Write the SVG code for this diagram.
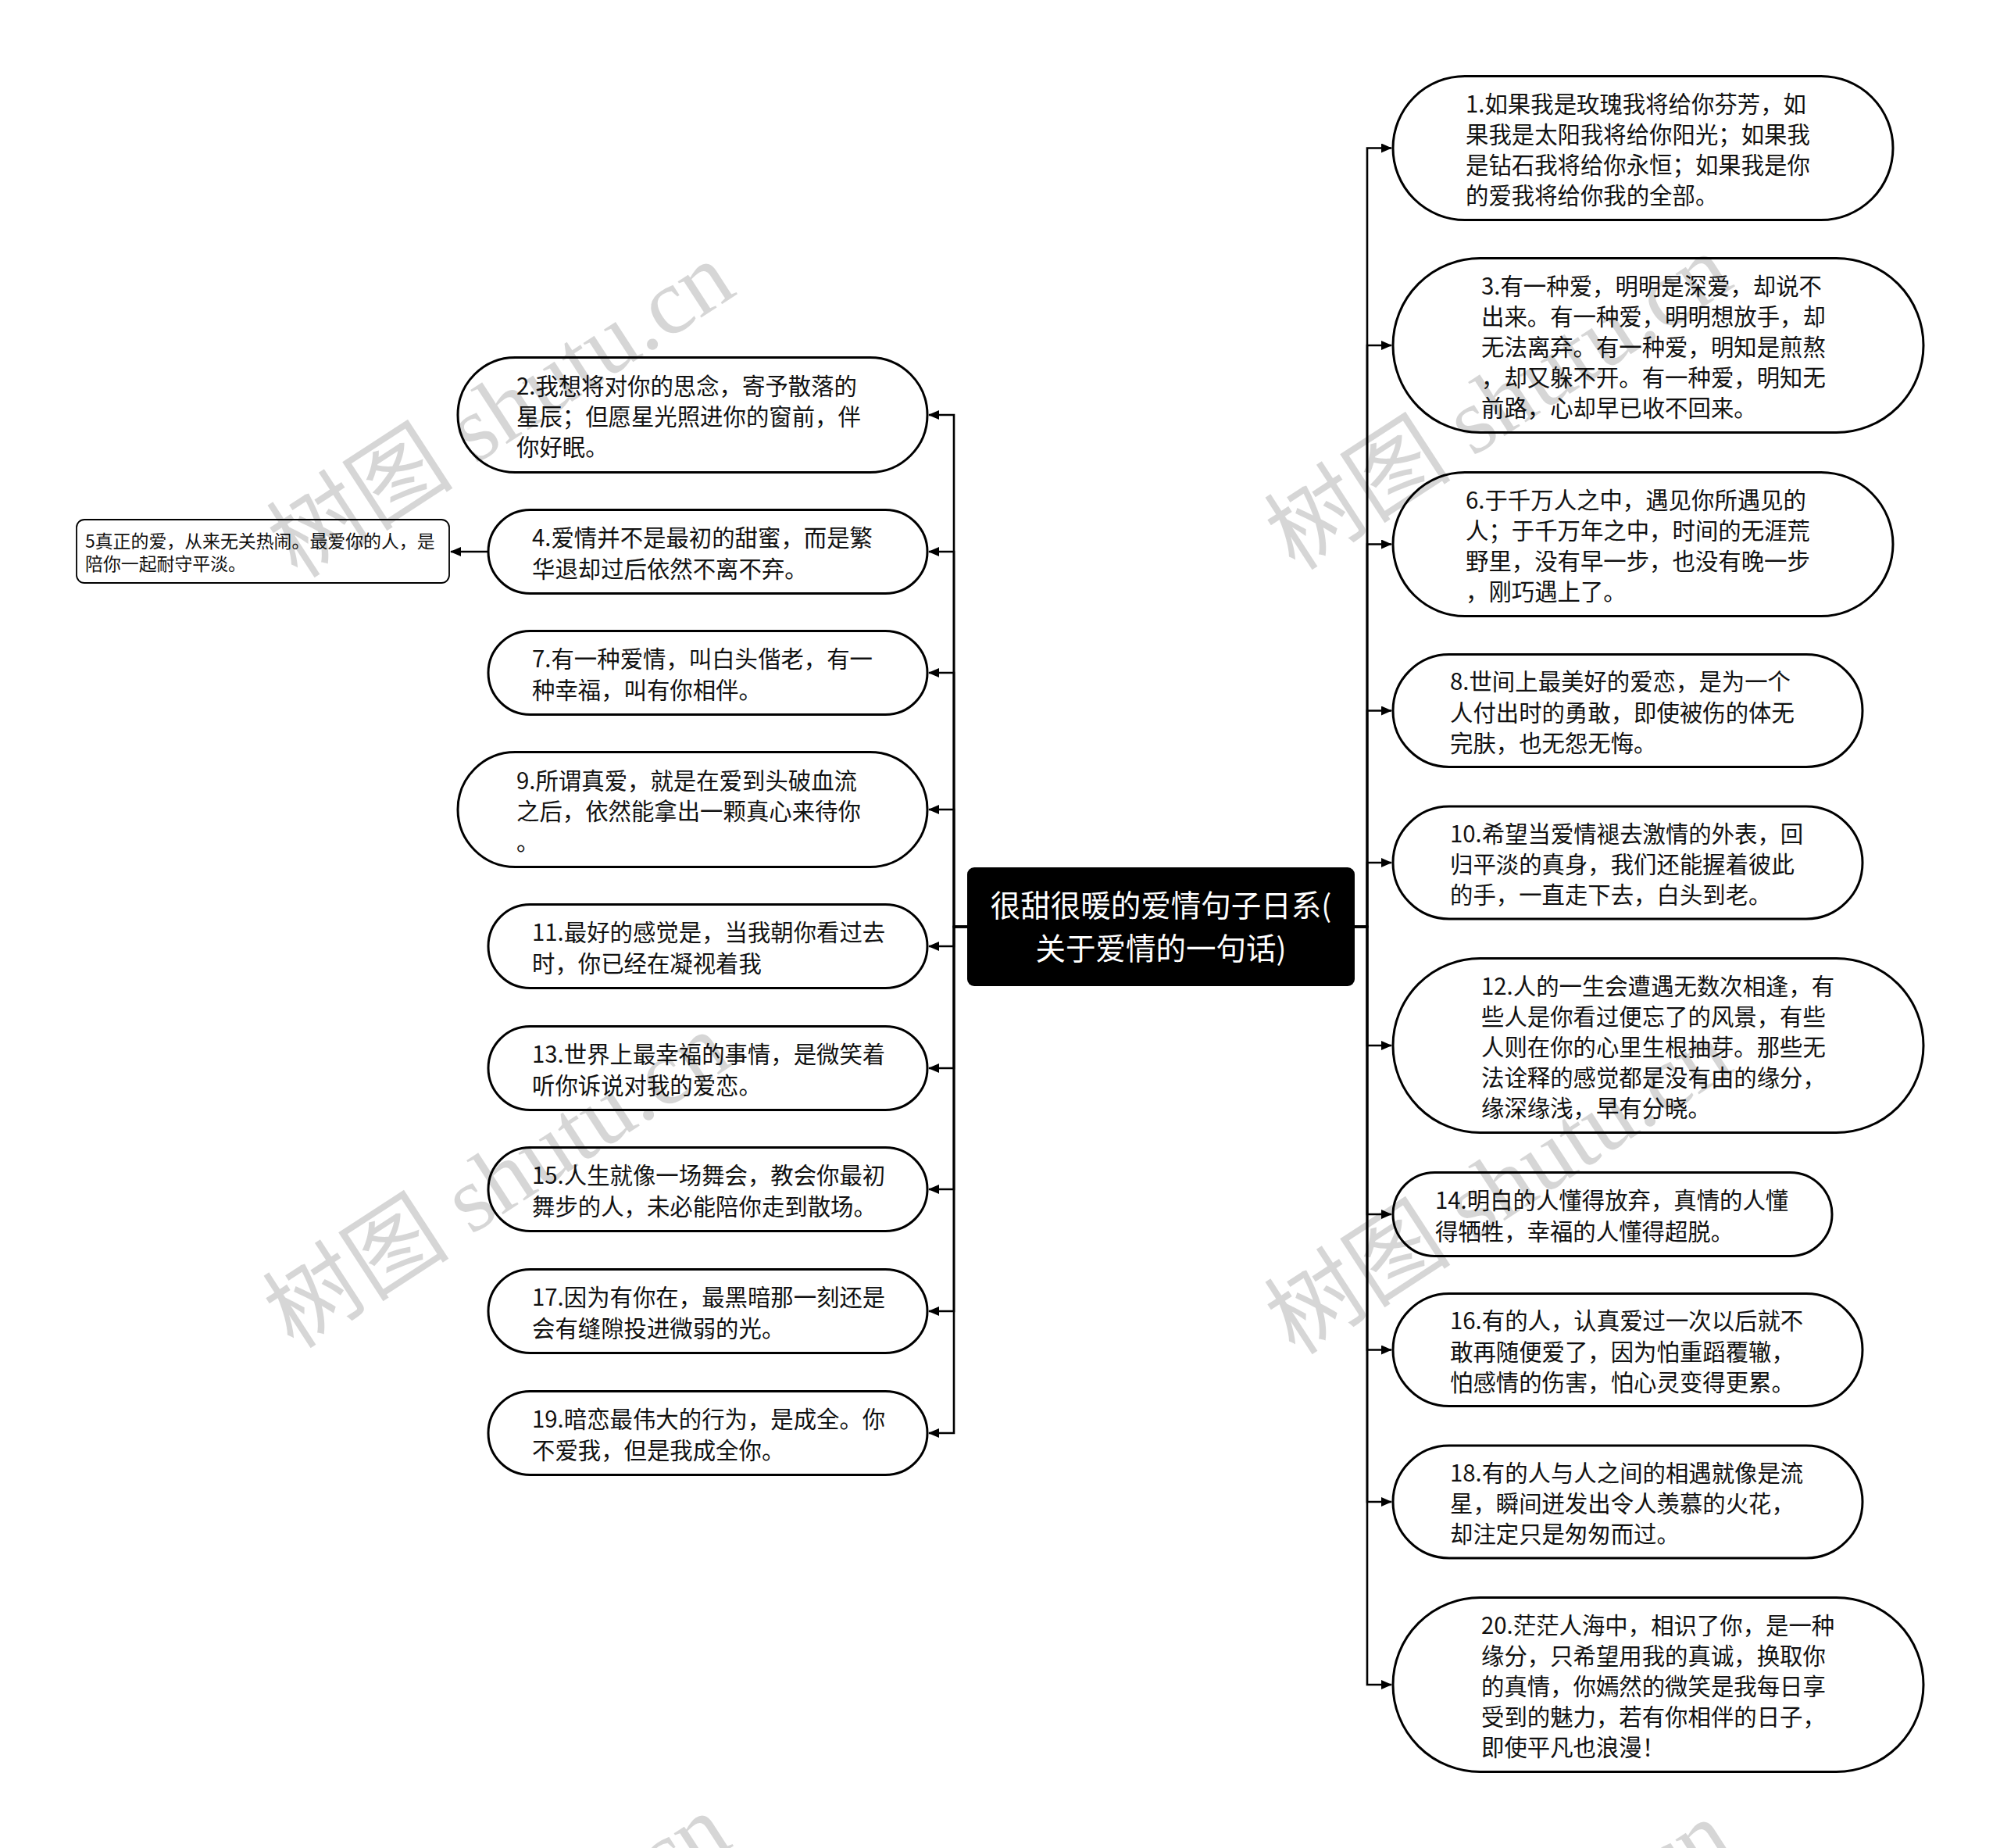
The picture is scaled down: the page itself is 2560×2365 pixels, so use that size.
<svg xmlns="http://www.w3.org/2000/svg" width="2560" height="2365" viewBox="0 0 2560 2365">
<style>
.node{fill:#fff;stroke:#000;stroke-width:3}
.t{font-family:"Noto Sans CJK SC","Noto Sans",sans-serif;font-size:29.4px;fill:#111;dominant-baseline:central}
.ts{font-family:"Noto Sans CJK SC","Noto Sans",sans-serif;font-size:22.9px;fill:#111;dominant-baseline:central}
.tc{font-family:"Noto Sans CJK SC","Noto Sans",sans-serif;font-size:38.5px;fill:#fff;dominant-baseline:central;text-anchor:middle}
.c{fill:none;stroke:#000;stroke-width:2.6;marker-end:url(#ah)}
.wm{font-family:"Liberation Serif","Noto Sans CJK SC",serif;font-size:120px;fill:#000;fill-opacity:0.16}
</style>
<defs>
<marker id="ah" markerUnits="userSpaceOnUse" markerWidth="14" markerHeight="12" refX="13" refY="6" orient="auto">
<path d="M0,0 L14,6 L0,12 z" fill="#000"/>
</marker>
</defs>
<rect width="2560" height="2365" fill="#fff"/>
<g id="connectors">
<path class="c" d="M1238 1186 H1221 V531 H1189"/>
<path class="c" d="M1238 1186 H1221 V706 H1189"/>
<path class="c" d="M1238 1186 H1221 V861 H1189"/>
<path class="c" d="M1238 1186 H1221 V1036 H1189"/>
<path class="c" d="M1238 1186 H1221 V1211 H1189"/>
<path class="c" d="M1238 1186 H1221 V1367 H1189"/>
<path class="c" d="M1238 1186 H1221 V1522 H1189"/>
<path class="c" d="M1238 1186 H1221 V1678 H1189"/>
<path class="c" d="M1238 1186 H1221 V1834 H1189"/>
<path class="c" d="M625 706 H577"/>
<path class="c" d="M1734 1186 H1750 V189.5 H1781"/>
<path class="c" d="M1734 1186 H1750 V442 H1781"/>
<path class="c" d="M1734 1186 H1750 V696.5 H1781"/>
<path class="c" d="M1734 1186 H1750 V909.5 H1781"/>
<path class="c" d="M1734 1186 H1750 V1104 H1781"/>
<path class="c" d="M1734 1186 H1750 V1338 H1781"/>
<path class="c" d="M1734 1186 H1750 V1554 H1781"/>
<path class="c" d="M1734 1186 H1750 V1727.5 H1781"/>
<path class="c" d="M1734 1186 H1750 V1922 H1781"/>
<path class="c" d="M1734 1186 H1750 V2156 H1781"/>
</g>
<g id="center">
<rect x="1238" y="1110" width="496" height="152" rx="9" fill="#000"/>
<text class="tc"><tspan x="1486" y="1156">很甜很暖的爱情句子日系(</tspan><tspan x="1486" y="1211">关于爱情的一句话)</tspan></text>
</g>
<g id="n2"><rect class="node" x="586" y="457.5" width="601" height="147" rx="73.5"/>
<text class="t"><tspan x="661" y="491.8">2.我想将对你的思念，寄予散落的</tspan><tspan x="661" y="531">星辰；但愿星光照进你的窗前，伴</tspan><tspan x="661" y="570.2">你好眠。</tspan></text></g>
<g id="n4"><rect class="node" x="625" y="652.5" width="562" height="107" rx="53.5"/>
<text class="t"><tspan x="681" y="686.4">4.爱情并不是最初的甜蜜，而是繁</tspan><tspan x="681" y="725.6">华退却过后依然不离不弃。</tspan></text></g>
<g id="n5"><rect x="98" y="665" width="477" height="81" rx="10" fill="#fff" stroke="#000" stroke-width="1.8"/>
<text class="ts"><tspan x="109" y="691">5真正的爱，从来无关热闹。最爱你的人，是</tspan><tspan x="109" y="720">陪你一起耐守平淡。</tspan></text></g>
<g id="n7"><rect class="node" x="625" y="807.5" width="562" height="107" rx="53.5"/>
<text class="t"><tspan x="681" y="841.4">7.有一种爱情，叫白头偕老，有一</tspan><tspan x="681" y="880.6">种幸福，叫有你相伴。</tspan></text></g>
<g id="n9"><rect class="node" x="586" y="962.5" width="601" height="147" rx="73.5"/>
<text class="t"><tspan x="661" y="996.8">9.所谓真爱，就是在爱到头破血流</tspan><tspan x="661" y="1036">之后，依然能拿出一颗真心来待你</tspan><tspan x="661" y="1075.2">。</tspan></text></g>
<g id="n11"><rect class="node" x="625" y="1157.5" width="562" height="107" rx="53.5"/>
<text class="t"><tspan x="681" y="1191.4">11.最好的感觉是，当我朝你看过去</tspan><tspan x="681" y="1230.6">时，你已经在凝视着我</tspan></text></g>
<g id="n13"><rect class="node" x="625" y="1313.5" width="562" height="107" rx="53.5"/>
<text class="t"><tspan x="681" y="1347.4">13.世界上最幸福的事情，是微笑着</tspan><tspan x="681" y="1386.6">听你诉说对我的爱恋。</tspan></text></g>
<g id="n15"><rect class="node" x="625" y="1468.5" width="562" height="107" rx="53.5"/>
<text class="t"><tspan x="681" y="1502.4">15.人生就像一场舞会，教会你最初</tspan><tspan x="681" y="1541.6">舞步的人，未必能陪你走到散场。</tspan></text></g>
<g id="n17"><rect class="node" x="625" y="1624.5" width="562" height="107" rx="53.5"/>
<text class="t"><tspan x="681" y="1658.4">17.因为有你在，最黑暗那一刻还是</tspan><tspan x="681" y="1697.6">会有缝隙投进微弱的光。</tspan></text></g>
<g id="n19"><rect class="node" x="625" y="1780.5" width="562" height="107" rx="53.5"/>
<text class="t"><tspan x="681" y="1814.4">19.暗恋最伟大的行为，是成全。你</tspan><tspan x="681" y="1853.6">不爱我，但是我成全你。</tspan></text></g>
<g id="n1"><rect class="node" x="1783" y="97.5" width="640" height="184" rx="92"/>
<text class="t"><tspan x="1876" y="130.7">1.如果我是玫瑰我将给你芬芳，如</tspan><tspan x="1876" y="169.9">果我是太阳我将给你阳光；如果我</tspan><tspan x="1876" y="209.1">是钻石我将给你永恒；如果我是你</tspan><tspan x="1876" y="248.3">的爱我将给你我的全部。</tspan></text></g>
<g id="n3"><rect class="node" x="1783" y="330.5" width="679" height="223" rx="111.5"/>
<text class="t"><tspan x="1896" y="363.6">3.有一种爱，明明是深爱，却说不</tspan><tspan x="1896" y="402.8">出来。有一种爱，明明想放手，却</tspan><tspan x="1896" y="442">无法离弃。有一种爱，明知是煎熬</tspan><tspan x="1896" y="481.2">，却又躲不开。有一种爱，明知无</tspan><tspan x="1896" y="520.4">前路，心却早已收不回来。</tspan></text></g>
<g id="n6"><rect class="node" x="1783" y="604.5" width="640" height="184" rx="92"/>
<text class="t"><tspan x="1876" y="637.7">6.于千万人之中，遇见你所遇见的</tspan><tspan x="1876" y="676.9">人；于千万年之中，时间的无涯荒</tspan><tspan x="1876" y="716.1">野里，没有早一步，也没有晚一步</tspan><tspan x="1876" y="755.3">，刚巧遇上了。</tspan></text></g>
<g id="n8"><rect class="node" x="1783" y="837.5" width="601" height="144" rx="72"/>
<text class="t"><tspan x="1856" y="870.3">8.世间上最美好的爱恋，是为一个</tspan><tspan x="1856" y="909.5">人付出时的勇敢，即使被伤的体无</tspan><tspan x="1856" y="948.7">完肤，也无怨无悔。</tspan></text></g>
<g id="n10"><rect class="node" x="1783" y="1032" width="601" height="144" rx="72"/>
<text class="t"><tspan x="1856" y="1064.8">10.希望当爱情褪去激情的外表，回</tspan><tspan x="1856" y="1104">归平淡的真身，我们还能握着彼此</tspan><tspan x="1856" y="1143.2">的手，一直走下去，白头到老。</tspan></text></g>
<g id="n12"><rect class="node" x="1783" y="1226.5" width="679" height="223" rx="111.5"/>
<text class="t"><tspan x="1896" y="1259.6">12.人的一生会遭遇无数次相逢，有</tspan><tspan x="1896" y="1298.8">些人是你看过便忘了的风景，有些</tspan><tspan x="1896" y="1338">人则在你的心里生根抽芽。那些无</tspan><tspan x="1896" y="1377.2">法诠释的感觉都是没有由的缘分，</tspan><tspan x="1896" y="1416.4">缘深缘浅，早有分晓。</tspan></text></g>
<g id="n14"><rect class="node" x="1783" y="1500.5" width="562" height="107" rx="53.5"/>
<text class="t"><tspan x="1837" y="1534.4">14.明白的人懂得放弃，真情的人懂</tspan><tspan x="1837" y="1573.6">得牺牲，幸福的人懂得超脱。</tspan></text></g>
<g id="n16"><rect class="node" x="1783" y="1655.5" width="601" height="144" rx="72"/>
<text class="t"><tspan x="1856" y="1688.3">16.有的人，认真爱过一次以后就不</tspan><tspan x="1856" y="1727.5">敢再随便爱了，因为怕重蹈覆辙，</tspan><tspan x="1856" y="1766.7">怕感情的伤害，怕心灵变得更累。</tspan></text></g>
<g id="n18"><rect class="node" x="1783" y="1850" width="601" height="144" rx="72"/>
<text class="t"><tspan x="1856" y="1882.8">18.有的人与人之间的相遇就像是流</tspan><tspan x="1856" y="1922">星，瞬间迸发出令人羡慕的火花，</tspan><tspan x="1856" y="1961.2">却注定只是匆匆而过。</tspan></text></g>
<g id="n20"><rect class="node" x="1783" y="2044.5" width="679" height="223" rx="111.5"/>
<text class="t"><tspan x="1896" y="2077.6">20.茫茫人海中，相识了你，是一种</tspan><tspan x="1896" y="2116.8">缘分，只希望用我的真诚，换取你</tspan><tspan x="1896" y="2156">的真情，你嫣然的微笑是我每日享</tspan><tspan x="1896" y="2195.2">受到的魅力，若有你相伴的日子，</tspan><tspan x="1896" y="2234.4">即使平凡也浪漫！</tspan></text></g>
<g id="watermarks">
<text class="wm" transform="translate(381 742) rotate(-33)">树图 shutu.cn</text>
<text class="wm" transform="translate(1658 732) rotate(-33)">树图 shutu.cn</text>
<text class="wm" transform="translate(376 1728) rotate(-33)">树图 shutu.cn</text>
<text class="wm" transform="translate(1658 1736) rotate(-33)">树图 shutu.cn</text>
<text class="wm" transform="translate(376 2728) rotate(-33)">树图 shutu.cn</text>
<text class="wm" transform="translate(1658 2736) rotate(-33)">树图 shutu.cn</text>
</g>
</svg>
